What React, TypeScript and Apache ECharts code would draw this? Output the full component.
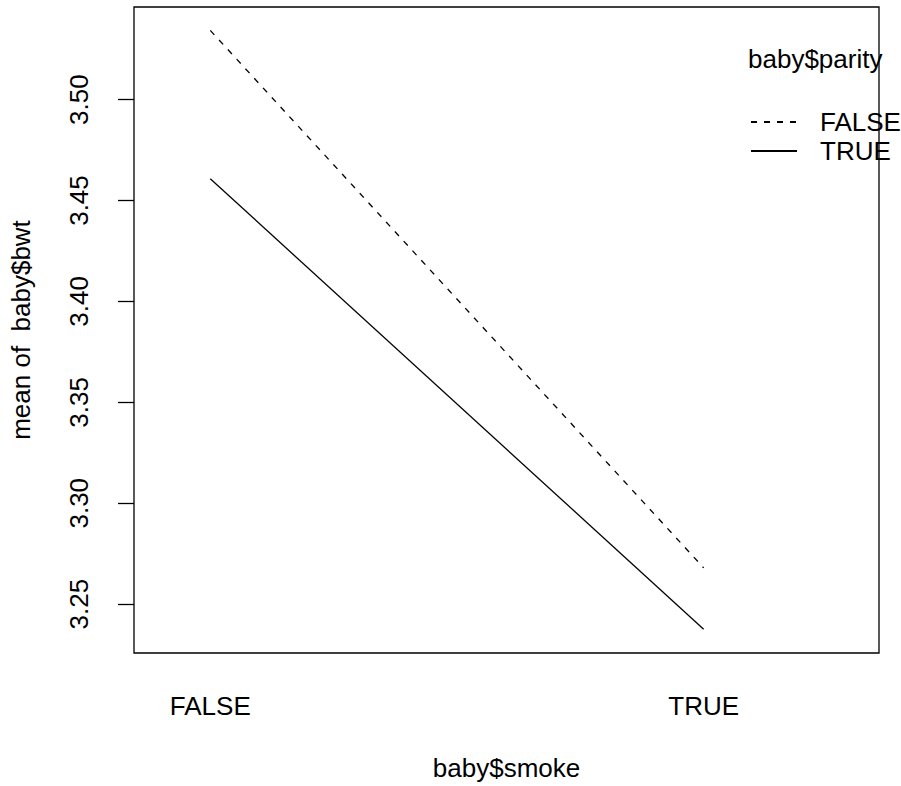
import React, { useEffect, useRef } from "react";
import * as echarts from "echarts";

const smokeCategories = ["FALSE", "TRUE"];
const parityLevels = ["FALSE", "TRUE"];
const meanBwtParityFalse = [3.5343, 3.268];
const meanBwtParityTrue = [3.4608, 3.2376];
const yTickValues = [3.25, 3.3, 3.35, 3.4, 3.45, 3.5];

const FONT = "'Liberation Sans', Arial, Helvetica, sans-serif";
const FS = 26;

export default function App() {
  const ref = useRef<HTMLDivElement>(null);
  useEffect(() => {
    if (!ref.current) return;
    const chart = echarts.init(ref.current, null, { renderer: "svg" });
    const toPoints = (vals: number[]) => vals.map((v, i) => [i + 1, v]);
    chart.setOption({
      animation: false,
      backgroundColor: "#ffffff",
      textStyle: { fontFamily: FONT, color: "#000" },
      title: {
        text: "baby$parity",
        left: 748,
        top: 46,
        padding: 0,
        textStyle: { fontFamily: FONT, fontSize: FS, fontWeight: "normal", color: "#000" },
      },
      legend: {
        orient: "vertical",
        left: 750,
        top: 109,
        padding: 0,
        itemWidth: 46,
        itemHeight: 14,
        itemGap: 3,
        data: parityLevels,
        itemStyle: { opacity: 0 },
        textStyle: { fontFamily: FONT, fontSize: FS, color: "#000", padding: [0, 0, 0, 18] },
        selectedMode: false,
      },
      grid: {
        left: 130,
        top: 7,
        right: 22,
        bottom: 126,
        show: true,
        borderColor: "#000",
        borderWidth: 1.3,
        backgroundColor: "transparent",
      },
      xAxis: {
        type: "value",
        min: 0.8454,
        max: 2.3554,
        name: "baby$smoke",
        nameLocation: "middle",
        nameGap: 102,
        nameTextStyle: { fontFamily: FONT, fontSize: FS, color: "#000" },
        axisLine: { show: false },
        axisTick: { show: false },
        splitLine: { show: false },
        axisLabel: {
          customValues: [1, 2],
          margin: 40,
          fontFamily: FONT,
          fontSize: FS,
          color: "#000",
          formatter: (v: number) => smokeCategories[Math.round(v) - 1] ?? "",
        },
      },
      yAxis: {
        type: "value",
        min: 3.2258,
        max: 3.5459,
        name: "mean of  baby$bwt",
        nameLocation: "middle",
        nameGap: 100,
        nameTextStyle: { fontFamily: FONT, fontSize: FS, color: "#000" },
        axisLine: { show: false },
        splitLine: { show: false },
        axisTick: {
          show: true,
          customValues: yTickValues,
          length: 16,
          lineStyle: { color: "#000", width: 1.3 },
        },
        axisLabel: {
          customValues: yTickValues,
          rotate: 90,
          margin: 42,
          fontFamily: FONT,
          fontSize: FS,
          color: "#000",
          formatter: (v: number) => v.toFixed(2),
        },
      },
      series: [
        {
          name: parityLevels[0],
          type: "line",
          data: toPoints(meanBwtParityFalse),
          symbol: "none",
          lineStyle: { color: "#000", width: 1.3, type: [6, 7] },
          itemStyle: { color: "#000" },
        },
        {
          name: parityLevels[1],
          type: "line",
          data: toPoints(meanBwtParityTrue),
          symbol: "none",
          lineStyle: { color: "#000", width: 1.3, type: "solid" },
          itemStyle: { color: "#000" },
        },
      ],
    });
    return () => chart.dispose();
  }, []);
  return (
    <div style={{ position: "fixed", left: 0, top: 0, width: 901, height: 786, background: "#fff" }}>
      <div ref={ref} style={{ width: 901, height: 786 }} />
    </div>
  );
}
